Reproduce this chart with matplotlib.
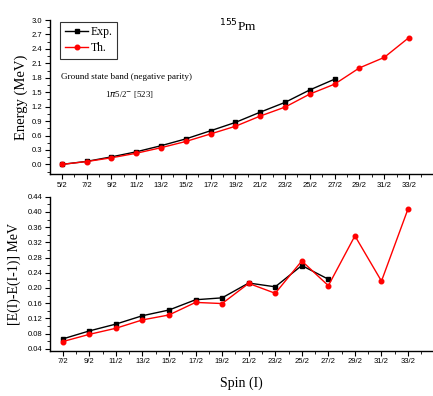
import numpy as np
import matplotlib
matplotlib.use('Agg')
import matplotlib.pyplot as plt
from matplotlib.ticker import MultipleLocator

# spins for the energy panel and the transition panel
spins_top = ['5/2', '7/2', '9/2', '11/2', '13/2', '15/2', '17/2', '19/2', '21/2',
             '23/2', '25/2', '27/2', '29/2', '31/2', '33/2']
spins_bot = spins_top[1:]

# level energies (MeV)
e_exp = [0.0, 0.062, 0.156, 0.261, 0.388, 0.530, 0.699, 0.872, 1.085, 1.288, 1.547, 1.770]
e_th = [0.0, 0.059, 0.137, 0.231, 0.347, 0.476, 0.633, 0.792, 1.004, 1.190, 1.461, 1.667,
        2.004, 2.222, 2.635]

# E(I)-E(I-1) (MeV)
d_exp = [0.066, 0.087, 0.105, 0.127, 0.142, 0.169, 0.174, 0.213, 0.203, 0.259, 0.223]
d_th = [0.059, 0.078, 0.094, 0.116, 0.129, 0.162, 0.159, 0.212, 0.186, 0.271, 0.206,
        0.337, 0.218, 0.408]

serif = ['Liberation Serif', 'DejaVu Serif']
sans = ['Liberation Sans Narrow', 'Liberation Sans', 'DejaVu Sans']

W, H = 433, 396
fig = plt.figure(figsize=(W / 100, H / 100), dpi=100)

def px_axes(left, top, right, bottom):
    return fig.add_axes([left / W, 1 - bottom / H, (right - left) / W, (bottom - top) / H])

def style(ax):
    for s in ['top', 'right']:
        ax.spines[s].set_visible(False)
    for s in ['left', 'bottom']:
        ax.spines[s].set_linewidth(1.0)
    ax.tick_params(which='major', direction='out', length=3.5, width=0.8, labelsize=5.5, pad=2)
    ax.tick_params(which='minor', direction='out', length=2, width=0.6)
    for lab in ax.get_xticklabels() + ax.get_yticklabels():
        lab.set_family(sans)

# ---- top panel: energies
ax1 = px_axes(50, 20, 433, 174)
x_top = np.arange(len(spins_top))
ax1.plot(x_top[:len(e_exp)], e_exp, color='black', marker='s', ms=3.0, lw=1.0, label='Exp.')
ax1.plot(x_top, e_th, color='red', marker='o', ms=3.3, lw=1.0, label='Th.')
ax1.set_xlim(-0.48, 14.97)
ax1.set_ylim(-0.2, 3.0)
ax1.set_xticks(x_top)
ax1.set_xticklabels(spins_top)
ax1.xaxis.set_minor_locator(MultipleLocator(0.5))
ax1.yaxis.set_major_locator(MultipleLocator(0.3))
ax1.yaxis.set_minor_locator(MultipleLocator(0.15))
ax1.yaxis.set_major_formatter(matplotlib.ticker.FormatStrFormatter('%.1f'))
style(ax1)
ax1.set_ylabel('Energy (MeV)', family=serif, fontsize=10.5, labelpad=3)
leg = ax1.legend(loc='upper left', bbox_to_anchor=(0.02, 1.005), prop={'family': serif, 'size': 8.5},
                 frameon=True, fancybox=False, edgecolor='black', handlelength=2.0,
                 borderpad=0.4, labelspacing=0.35, handletextpad=0.2, borderaxespad=0.2)
leg.get_frame().set_linewidth(0.8)
ax1.text(0.03, 0.615, 'Ground state band (negative parity)', transform=ax1.transAxes,
         family=serif, fontsize=6.6)
ax1.text(0.143, 0.5, r'1$\pi$5/2$^{\mathsf{-}}$ [523]', transform=ax1.transAxes,
         family=serif, fontsize=6.3)
ax1.text(0.44, 0.925, r'$^{155}$Pm', transform=ax1.transAxes, family=serif, fontsize=9.5)

# ---- bottom panel: transition energies
ax2 = px_axes(50, 196.7, 433, 350.7)
x_bot = np.arange(len(spins_bot))
ax2.plot(x_bot[:len(d_exp)], d_exp, color='black', marker='s', ms=3.0, lw=1.0)
ax2.plot(x_bot, d_th, color='red', marker='o', ms=3.3, lw=1.0)
ax2.set_xlim(-0.48, 13.94)
ax2.set_ylim(0.035, 0.44)
ax2.set_xticks(x_bot)
ax2.set_xticklabels(spins_bot)
ax2.xaxis.set_minor_locator(MultipleLocator(0.5))
ax2.yaxis.set_major_locator(MultipleLocator(0.04))
ax2.yaxis.set_minor_locator(MultipleLocator(0.02))
ax2.yaxis.set_major_formatter(matplotlib.ticker.FormatStrFormatter('%.2f'))
style(ax2)
ax2.set_ylabel('[E(I)-E(I-1)] MeV', family=serif, fontsize=10, labelpad=5)
ax2.set_xlabel('Spin (I)', family=serif, fontsize=10, labelpad=8)

fig.savefig('out.png', dpi=100, facecolor='white')
